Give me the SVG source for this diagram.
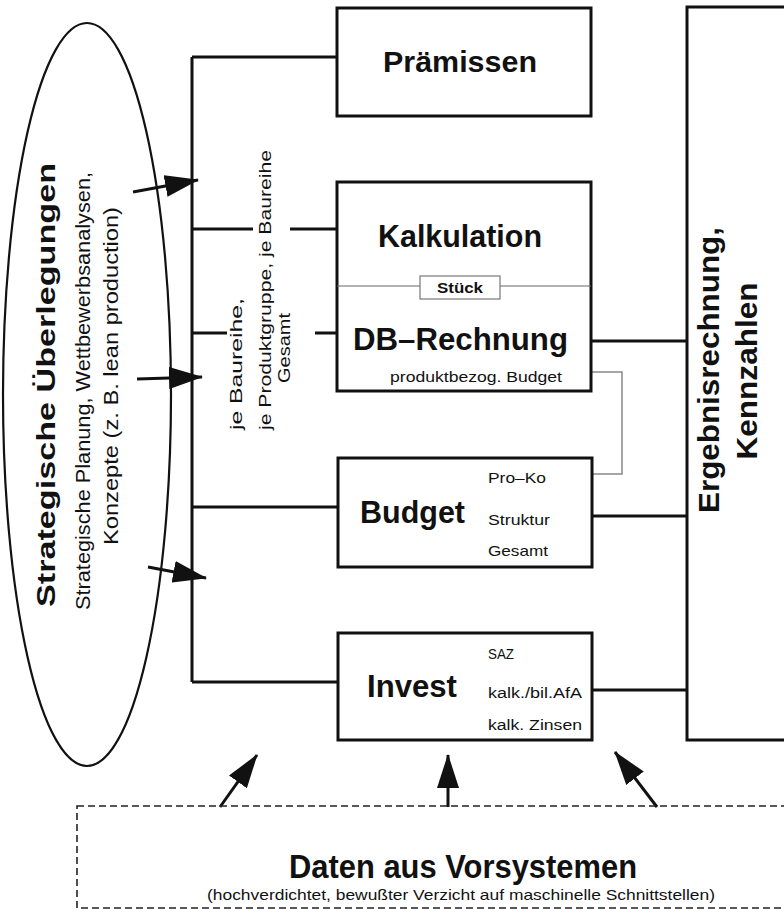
<svg xmlns="http://www.w3.org/2000/svg" width="784" height="912" viewBox="0 0 784 912">
<style>
.box{fill:#fff;stroke:#111;stroke-width:3}
.ln{fill:none;stroke:#111;stroke-width:3}
.thin{fill:none;stroke:#666;stroke-width:1.2}
.t{font-family:"Liberation Sans",Arial,sans-serif;fill:#111}
.b{font-weight:bold}
</style>
<defs>
<marker id="ah" viewBox="0 0 34 22" refX="33" refY="11" markerWidth="34" markerHeight="22" markerUnits="userSpaceOnUse" orient="auto">
<path d="M0,0 L34,11 L0,22 z" fill="#111"/>
</marker>
</defs>
<rect width="784" height="912" fill="#fff"/>

<g id="strategie">
<ellipse cx="87" cy="394.5" rx="84" ry="371.5" fill="none" stroke="#111" stroke-width="2.2"/>
<text class="t b" transform="translate(55,385) rotate(-90)" text-anchor="middle" font-size="26" textLength="444" lengthAdjust="spacingAndGlyphs">Strategische Überlegungen</text>
<text class="t" transform="translate(90,391) rotate(-90)" text-anchor="middle" font-size="20" textLength="438" lengthAdjust="spacingAndGlyphs">Strategische Planung, Wettbewerbsanalysen,</text>
<text class="t" transform="translate(118,376) rotate(-90)" text-anchor="middle" font-size="20" textLength="338" lengthAdjust="spacingAndGlyphs">Konzepte (z. B. lean production)</text>
</g>

<g id="connectors">
<path class="ln" d="M192,57 V682"/>
<path class="ln" d="M192,57 H337"/>
<path class="ln" d="M192,229 H253 M290,229 H337"/>
<path class="ln" d="M192,333 H227 M315,333 H337"/>
<path class="ln" d="M192,507 H338"/>
<path class="ln" d="M192,682 H338"/>
<path class="ln" d="M591,341 H687"/>
<path class="ln" d="M592,516 H687"/>
<path class="ln" d="M592,690 H687"/>
<path d="M591,372 H622 V474 H592" fill="none" stroke="#888" stroke-width="1.5"/>
<line class="ln" x1="133" y1="192" x2="198" y2="180" marker-end="url(#ah)"/>
<line class="ln" x1="137" y1="379" x2="202" y2="377" marker-end="url(#ah)"/>
<line class="ln" x1="148" y1="567" x2="206" y2="578" marker-end="url(#ah)"/>
<line class="ln" x1="220" y1="807" x2="257" y2="755" marker-end="url(#ah)"/>
<line class="ln" x1="448" y1="807" x2="448" y2="755" marker-end="url(#ah)"/>
<line class="ln" x1="657" y1="807" x2="615" y2="752" marker-end="url(#ah)"/>
<text class="t" transform="translate(242,430) rotate(-90)" font-size="17" textLength="132" lengthAdjust="spacingAndGlyphs">je Baureihe,</text>
<text class="t" transform="translate(271,430) rotate(-90)" font-size="17" textLength="280" lengthAdjust="spacingAndGlyphs">je Produktgruppe, je Baureihe</text>
<text class="t" transform="translate(290,383) rotate(-90)" font-size="17" textLength="70" lengthAdjust="spacingAndGlyphs">Gesamt</text>
</g>

<g id="praemissen">
<rect class="box" x="337" y="8" width="254" height="108"/>
<text class="t b" x="383" y="72" font-size="30" textLength="154" lengthAdjust="spacingAndGlyphs">Prämissen</text>
</g>

<g id="kalkulation">
<rect class="box" x="337" y="182" width="254" height="209"/>
<text class="t b" x="378" y="247" font-size="31" textLength="164" lengthAdjust="spacingAndGlyphs">Kalkulation</text>
<path class="thin" d="M337,286 H420 M500,286 H591"/>
<rect x="420" y="276" width="80" height="23" fill="#fff" stroke="#777" stroke-width="1.2"/>
<text class="t b" x="437" y="293" font-size="14" textLength="46" lengthAdjust="spacingAndGlyphs">Stück</text>
<text class="t b" x="353" y="350" font-size="31" textLength="215" lengthAdjust="spacingAndGlyphs">DB–Rechnung</text>
<text class="t" x="390" y="382" font-size="15" textLength="172" lengthAdjust="spacingAndGlyphs">produktbezog. Budget</text>
</g>

<g id="budget">
<rect class="box" x="338" y="458" width="254" height="109"/>
<text class="t b" x="360" y="523" font-size="31" textLength="105" lengthAdjust="spacingAndGlyphs">Budget</text>
<text class="t" x="488" y="483" font-size="15" textLength="58" lengthAdjust="spacingAndGlyphs">Pro–Ko</text>
<text class="t" x="488" y="525" font-size="15" textLength="62" lengthAdjust="spacingAndGlyphs">Struktur</text>
<text class="t" x="488" y="556" font-size="15" textLength="60" lengthAdjust="spacingAndGlyphs">Gesamt</text>
</g>

<g id="invest">
<rect class="box" x="338" y="633" width="254" height="107"/>
<text class="t b" x="367" y="697" font-size="31" textLength="90" lengthAdjust="spacingAndGlyphs">Invest</text>
<text class="t" x="488" y="659" font-size="14" textLength="26" lengthAdjust="spacingAndGlyphs">SAZ</text>
<text class="t" x="488" y="698" font-size="14" textLength="94" lengthAdjust="spacingAndGlyphs">kalk./bil.AfA</text>
<text class="t" x="488" y="730" font-size="14" textLength="94" lengthAdjust="spacingAndGlyphs">kalk. Zinsen</text>
</g>

<g id="ergebnis">
<rect class="box" x="687" y="7" width="120" height="733"/>
<text class="t b" transform="translate(719,370) rotate(-90)" text-anchor="middle" font-size="30" textLength="286" lengthAdjust="spacingAndGlyphs">Ergebnisrechnung,</text>
<text class="t b" transform="translate(757,371) rotate(-90)" text-anchor="middle" font-size="30" textLength="177" lengthAdjust="spacingAndGlyphs">Kennzahlen</text>
</g>

<g id="daten">
<rect x="77" y="806" width="730" height="102" fill="none" stroke="#222" stroke-width="1.6" stroke-dasharray="7,4"/>
<text class="t b" x="289" y="878" font-size="33" textLength="348" lengthAdjust="spacingAndGlyphs">Daten aus Vorsystemen</text>
<text class="t" x="207" y="900" font-size="15" textLength="508" lengthAdjust="spacingAndGlyphs">(hochverdichtet, bewußter Verzicht auf maschinelle Schnittstellen)</text>
</g>
</svg>
